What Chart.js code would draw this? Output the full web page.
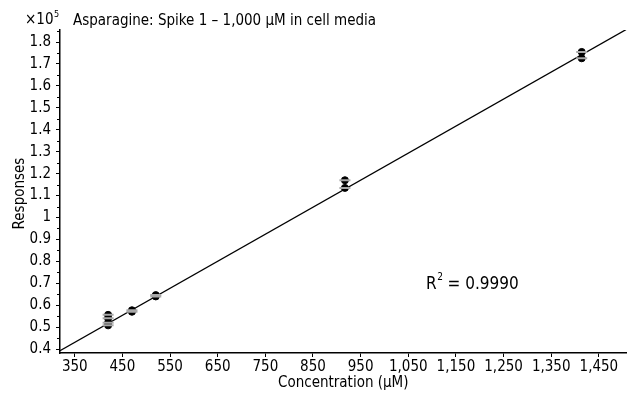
<!DOCTYPE html>
<html>
<head>
<meta charset="utf-8">
<script src="https://cdn.jsdelivr.net/npm/chart.js@4/dist/chart.umd.min.js"></script>
<style>
html,body{margin:0;padding:0;background:#fff;}
#wrap{width:634px;height:395px;position:relative;}
</style>
</head>
<body>
<div id="wrap"><canvas id="c" width="634" height="395"></canvas></div>
<script>
// ---- data (response units ×10^5) ----
const concentrations = [420, 420, 420, 420, 470, 470, 520, 520, 917, 917, 1414, 1414];
const responses = [0.508, 0.520, 0.540, 0.556, 0.570, 0.577, 0.640, 0.646, 1.135, 1.170, 1.726, 1.755];
const fitX = [319, 1508];
const fitY = [0.392, 1.858];
const xTickValues = [350, 450, 550, 650, 750, 850, 950, 1050, 1150, 1250, 1350, 1450];
const yTickValues = [0.4, 0.5, 0.6, 0.7, 0.8, 0.9, 1.0, 1.1, 1.2, 1.3, 1.4, 1.5, 1.6, 1.7, 1.8];
const yMinorTickValues = [0.45, 0.55, 0.65, 0.75, 0.85, 0.95, 1.05, 1.15, 1.25, 1.35, 1.45, 1.55, 1.65, 1.75, 1.85];
const titleText = 'Asparagine: Spike 1 \u2013 1,000 \u00B5M in cell media';
const r2Text = '0.9990';
const xTitle = 'Concentration (\u00B5M)';
const yTitle = 'Responses';

const FONT = '"Liberation Sans Narrow", "DejaVu Sans Condensed", "Roboto", sans-serif';

const pts = concentrations.map((x, i) => ({x: x, y: responses[i]}));
const fitPts = fitX.map((x, i) => ({x: x, y: fitY[i]}));

const extras = {
  id: 'extras',
  afterDraw(chart) {
    const ctx = chart.ctx;
    const ys = chart.scales.y;
    const xs = chart.scales.x;
    ctx.save();
    // minor y ticks
    ctx.strokeStyle = '#000';
    ctx.lineWidth = 1;
    yMinorTickValues.forEach(v => {
      if (v < ys.min || v > ys.max) return;
      const py = Math.round(ys.getPixelForValue(v)) + 0.5;
      ctx.beginPath();
      ctx.moveTo(xs.left - 3, py);
      ctx.lineTo(xs.left, py);
      ctx.stroke();
    });
    ctx.fillStyle = '#000';
    ctx.textBaseline = 'alphabetic';
    ctx.textAlign = 'left';
    // x10^5
    ctx.font = '15px ' + FONT;
    ctx.fillText('\u00D710', 25, 24);
    const w = ctx.measureText('\u00D710').width;
    ctx.font = '9px ' + FONT;
    ctx.fillText('5', 25 + w + 0.5, 17);
    // title
    ctx.font = '15px ' + FONT;
    ctx.fillText(titleText, 73, 25);
    // R^2
    ctx.font = '17px ' + FONT;
    ctx.fillText('R', 426, 289);
    const rw = ctx.measureText('R').width;
    ctx.font = '10px ' + FONT;
    ctx.fillText('2', 426 + rw + 0.5, 280);
    ctx.font = '17px ' + FONT;
    ctx.fillText(' = ' + r2Text, 426 + rw + 6, 289);
    // axis titles
    ctx.font = '15px ' + FONT;
    ctx.textAlign = 'center';
    ctx.textBaseline = 'middle';
    ctx.fillText(xTitle, (xs.left + xs.right) / 2, 383);
    ctx.save();
    ctx.translate(20, (ys.top + ys.bottom) / 2 + 2);
    ctx.rotate(-Math.PI / 2);
    ctx.fillText(yTitle, 0, 0);
    ctx.restore();
    ctx.restore();
  }
};

new Chart(document.getElementById('c'), {
  type: 'scatter',
  data: {
    datasets: [
      {
        type: 'line',
        data: fitPts,
        borderColor: '#000',
        borderWidth: 1.3,
        pointRadius: 0,
        fill: false,
        order: 3
      },
      {
        data: pts,
        backgroundColor: '#000',
        borderColor: '#000',
        pointRadius: 3.5,
        pointStyle: 'circle',
        order: 2
      },
      {
        data: pts,
        pointStyle: 'line',
        borderColor: '#a8a8a8',
        borderWidth: 2,
        pointRadius: 5.5,
        order: 1
      }
    ]
  },
  options: {
    responsive: false,
    animation: false,
    devicePixelRatio: 1,
    layout: {padding: {left: 0, right: 2, top: 30, bottom: 0}},
    plugins: {legend: {display: false}, tooltip: {enabled: false}, title: {display: false}},
    scales: {
      x: {
        type: 'linear',
        min: 319,
        max: 1508,
        afterBuildTicks: s => { s.ticks = xTickValues.map(v => ({value: v})); },
        afterFit: s => { s.height = 42; },
        border: {display: true, color: '#000', width: 1.5},
        grid: {display: true, drawOnChartArea: false, drawTicks: true, tickLength: 4, color: '#000'},
        ticks: {
          color: '#000',
          font: {family: FONT, size: 15},
          padding: 1,
          maxRotation: 0,
          autoSkip: false,
          callback: v => v.toLocaleString('en-US')
        },
        title: {display: false}
      },
      y: {
        type: 'linear',
        min: 0.382,
        max: 1.855,
        afterBuildTicks: s => { s.ticks = yTickValues.map(v => ({value: v})); },
        afterFit: s => { s.width = 60; },
        border: {display: true, color: '#000', width: 1.5},
        grid: {display: true, drawOnChartArea: false, drawTicks: true, tickLength: 4, color: '#000'},
        ticks: {
          color: '#000',
          font: {family: FONT, size: 15},
          padding: 5,
          autoSkip: false,
          callback: v => String(Math.round(v * 10) / 10)
        },
        title: {display: false}
      }
    }
  },
  plugins: [extras]
});
</script>
</body>
</html>
